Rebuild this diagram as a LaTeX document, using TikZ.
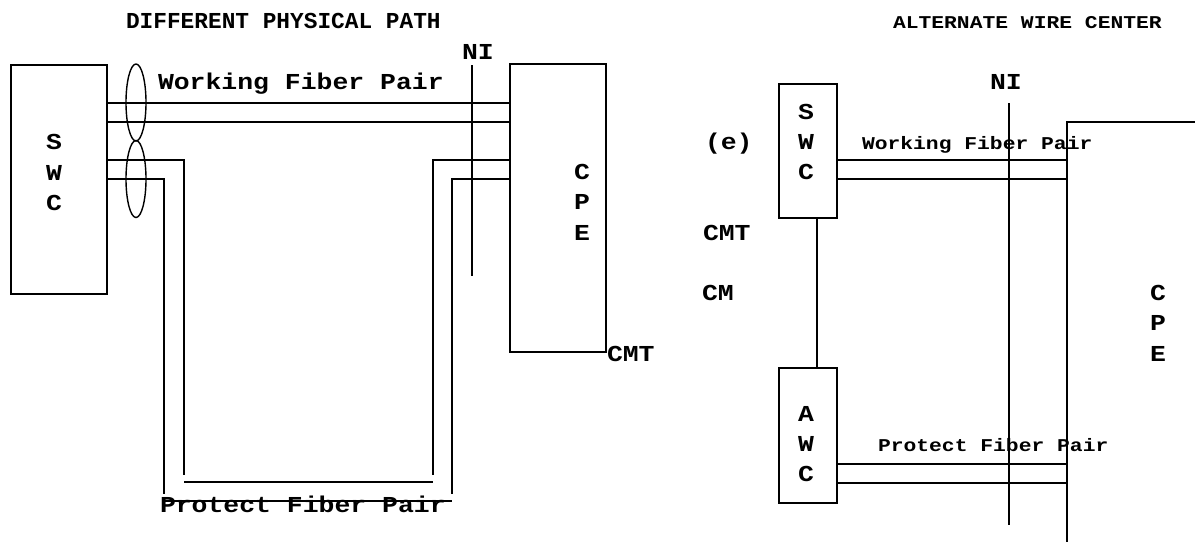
\documentclass[tikz,border=0pt]{standalone}
\usepackage{fontspec}
\setmainfont{Liberation Mono}
\newfontfamily\lblA{Liberation Mono}
\newfontfamily\lblB{Liberation Mono}[FakeStretch=1.16]
\newfontfamily\lblC{Liberation Mono}[FakeStretch=1.185]
\usetikzlibrary{shapes.geometric}
\tikzset{
  wire/.style={line width=1.4pt,line cap=butt},
  boxn/.style={draw,line width=1.6pt,rectangle,inner sep=0pt,outer sep=0pt},
  lbl/.style={inner sep=0pt,outer sep=0pt,font=\lblA\bfseries\fontsize{22.8}{24}\selectfont},
  wlbl/.style={inner sep=0pt,outer sep=0pt,font=\lblB\bfseries\fontsize{22.8}{24}\selectfont},
  slbl/.style={inner sep=0pt,outer sep=0pt,font=\lblC\bfseries\fontsize{18}{20}\selectfont},
  letter/.style={wlbl,anchor=base},
  tx/.style={lbl,anchor=base west},
  wx/.style={wlbl,anchor=base west},
  sx/.style={slbl,anchor=base west},
  oval/.style={draw,line width=1.4pt,ellipse,inner sep=0pt,minimum width=20pt,minimum height=77pt}
}
\begin{document}
\begin{tikzpicture}[x=1pt,y=-1pt]
\useasboundingbox (0,0) rectangle (1195,542);
% left panel
\node[boxn,minimum width=96pt,minimum height=229pt] (swcL) at (59,179.5) {};
\node[boxn,minimum width=96pt,minimum height=288pt] (cpeL) at (558,208) {};
\coordinate (w1) at (0,103); \coordinate (w2) at (0,122);
\coordinate (p1) at (0,160); \coordinate (p2) at (0,179);
\draw[wire] (swcL.east |- w1) -- (cpeL.west |- w1);
\draw[wire] (swcL.east |- w2) -- (cpeL.west |- w2);
\coordinate (li) at (184,475); \coordinate (lo) at (164,494);
\coordinate (ri) at (433,475); \coordinate (ro) at (452,494);
\draw[wire] (swcL.east |- p1) -| (li);
\draw[wire] (swcL.east |- p2) -| (lo);
\draw[wire] (cpeL.west |- p1) -| (ri);
\draw[wire] (cpeL.west |- p2) -| (ro);
\coordinate (bi1) at (184,482); \coordinate (bi2) at (433,482);
\coordinate (bo1) at (164,501); \coordinate (bo2) at (452,501);
\draw[wire] (bi1) -- (bi2);
\draw[wire] (bo1) -- (bo2);
\node[oval] (e1) at (136,102.5) {};
\node[oval] (e2) at (136,179) {};
\coordinate (niLt) at (472,65); \coordinate (niLb) at (472,276);
\draw[wire] (niLt) -- (niLb);
\node[tx] (tL) at (126,28) {DIFFERENT PHYSICAL PATH};
\node[wx] (wL) at (158,89) {Working Fiber Pair};
\node[wx] (nL) at (462,59) {NI};
\node[wx] (cmtL) at (607,361) {CMT};
\node[wx] (pL) at (160,512) {Protect Fiber Pair};
\node[letter] (s1) at (54,149) {S};
\node[letter] (s2) at (54,180) {W};
\node[letter] (s3) at (54,210) {C};
\node[letter] (c1) at (582,179) {C};
\node[letter] (c2) at (582,209) {P};
\node[letter] (c3) at (582,240) {E};
% right panel
\node[boxn,minimum width=58pt,minimum height=134pt] (swcR) at (808,151) {};
\node[boxn,minimum width=58pt,minimum height=135pt] (awcR) at (808,435.5) {};
\coordinate (cpeTR) at (1195,122);
\coordinate (cpeC) at (1067,122);
\coordinate (cpeBR) at (1067,542);
\draw[line width=1.6pt] (cpeTR) -- (cpeC) -- (cpeBR);
\coordinate (a1) at (0,160); \coordinate (a2) at (0,179);
\coordinate (a3) at (0,464); \coordinate (a4) at (0,483);
\draw[wire] (swcR.east |- a1) -- (cpeC |- a1);
\draw[wire] (swcR.east |- a2) -- (cpeC |- a2);
\draw[wire] (awcR.east |- a3) -- (cpeC |- a3);
\draw[wire] (awcR.east |- a4) -- (cpeC |- a4);
\coordinate (xl) at (817,0);
\draw[wire] (swcR.south -| xl) -- (awcR.north -| xl);
\coordinate (niRt) at (1009,103); \coordinate (niRb) at (1009,525);
\draw[wire] (niRt) -- (niRb);
\node[sx] (tR) at (893,28) {ALTERNATE WIRE CENTER};
\node[wx] (nR) at (990,89) {NI};
\node[wx] (eR) at (705,149) {(e)};
\node[wx] (cmtR) at (703,240) {CMT};
\node[wx] (cmR) at (702,300) {CM};
\node[sx] (wR) at (862,149) {Working Fiber Pair};
\node[sx] (pR) at (878,451) {Protect Fiber Pair};
\node[letter] (r1) at (806,119) {S};
\node[letter] (r2) at (806,149) {W};
\node[letter] (r3) at (806,179) {C};
\node[letter] (a1t) at (806,421) {A};
\node[letter] (a2t) at (806,451) {W};
\node[letter] (a3t) at (806,481) {C};
\node[letter] (k1) at (1158,300) {C};
\node[letter] (k2) at (1158,330) {P};
\node[letter] (k3) at (1158,361) {E};
\end{tikzpicture}
\end{document}
